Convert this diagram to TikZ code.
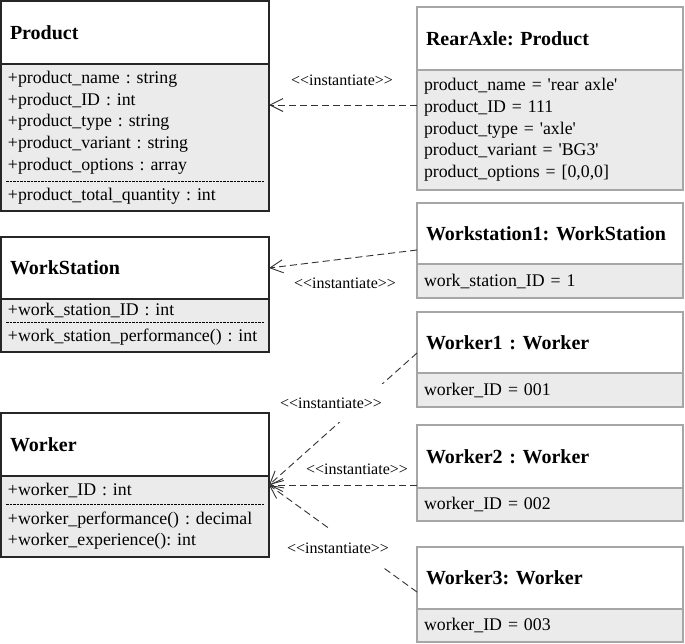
\documentclass[tikz,border=0pt]{standalone}
\usepackage{fontspec}
\setmainfont{Liberation Serif}
\usetikzlibrary{positioning,arrows.meta}
\frenchspacing

\newcommand{\instlabel}{\textless\kern0pt\textless instantiate\textgreater\kern0pt\textgreater}
\newcommand{\sq}[1]{\textquotesingle#1\textquotesingle}

\begin{document}
\begin{tikzpicture}[
  x=1pt, y=-1pt,
  headfont/.style={font=\bfseries\fontsize{20}{23}\selectfont},
  bodyfont/.style={font=\fontsize{17.8}{21.7}\selectfont},
  classhead/.style={draw=black!85, line width=1.4pt, outer sep=0pt, anchor=north west, align=left,
    minimum width=268pt, text width=250pt, inner xsep=9pt, headfont},
  classbody/.style={fill=black!8, outer sep=0pt, anchor=north, align=left,
    minimum width=268pt, text width=254pt, inner xsep=7pt, inner ysep=2pt, bodyfont},
  classbox/.style={draw=black!85, line width=1.4pt},
  sep/.style={dash pattern=on 2.5pt off 1pt, line width=1pt},
  objhead/.style={draw=black!35, line width=1.2pt, outer sep=0pt, anchor=north west, align=left,
    minimum width=266pt, text width=248pt, inner xsep=9pt, headfont},
  objbody/.style={draw=black!35, line width=1.2pt, fill=black!8, outer sep=0pt, anchor=north, align=left,
    minimum width=266pt, text width=252pt, inner xsep=7pt, inner ysep=2pt, bodyfont},
  instof/.style={-{Straight Barb[length=13pt,width=13pt]}, draw=black!80, line width=0.9pt,
    dash pattern=on 7pt off 4pt},
  stereo/.style={font=\fontsize{16}{18}\selectfont, inner sep=1pt},
  cutstereo/.style={stereo, fill=white, inner xsep=4pt, inner ysep=14pt}
]
\useasboundingbox (0,0) rectangle (685,643);

% classes on the left
\node[classhead, minimum height=63pt] (product) at (1,1) {Product};
\node[classbody, minimum height=117pt, below=0pt of product] (productattr)
  {+product\_name : string\\+product\_ID : int\\+product\_type : string\\+product\_variant : string\\+product\_options : array};
\node[classbody, minimum height=30pt, below=0pt of productattr] (productops) {+product\_total\_quantity : int};
\draw[classbox] (productattr.north west) rectangle (productops.south east);
\draw[sep] ([xshift=5pt]productattr.south west) -- ([xshift=-5pt]productattr.south east);

\node[classhead, minimum height=62pt] (workstation) at (1,237) {WorkStation};
\node[classbody, minimum height=23pt, below=0pt of workstation] (workstationattr) {+work\_station\_ID : int};
\node[classbody, minimum height=30pt, below=0pt of workstationattr] (workstationops) {+work\_station\_performance() : int};
\draw[classbox] (workstationattr.north west) rectangle (workstationops.south east);
\draw[sep] ([xshift=5pt]workstationattr.south west) -- ([xshift=-5pt]workstationattr.south east);

\node[classhead, minimum height=63pt] (worker) at (1,413) {Worker};
\node[classbody, minimum height=28pt, below=0pt of worker] (workerattr) {+worker\_ID : int};
\node[classbody, minimum height=53pt, below=0pt of workerattr] (workerops)
  {+worker\_performance() : decimal\\+worker\_experience(): int};
\draw[classbox] (workerattr.north west) rectangle (workerops.south east);
\draw[sep] ([xshift=5pt]workerattr.south west) -- ([xshift=-5pt]workerattr.south east);

% objects on the right
\node[objhead, minimum height=63pt] (rearaxle) at (417,7) {RearAxle: Product};
\node[objbody, minimum height=120pt, below=0pt of rearaxle] (rearaxleattr)
  {product\_name = \sq{rear axle}\\product\_ID = 111\\product\_type = \sq{axle}\\product\_variant = \sq{BG3}\\product\_options = [0,0,0]};

\node[objhead, minimum height=61pt] (workstation1) at (417,203) {Workstation1: WorkStation};
\node[objbody, minimum height=34pt, below=0pt of workstation1] (workstation1attr) {work\_station\_ID = 1};

\node[objhead, minimum height=61pt] (worker1) at (417,312) {Worker1 : Worker};
\node[objbody, minimum height=34pt, below=0pt of worker1] (worker1attr) {worker\_ID = 001};

\node[objhead, minimum height=63pt] (worker2) at (417,425) {Worker2 : Worker};
\node[objbody, minimum height=33pt, below=0pt of worker2] (worker2attr) {worker\_ID = 002};

\node[objhead, minimum height=62pt] (worker3) at (417,547) {Worker3: Worker};
\node[objbody, minimum height=33pt, below=0pt of worker3] (worker3attr) {worker\_ID = 003};

% instantiate dependencies
\coordinate (workerport) at ([yshift=5pt]workerattr.east);
\draw[instof] ([yshift=25pt]rearaxleattr.west) -- ([yshift=17.5pt]productattr.east);
\draw[instof] ([yshift=-16.5pt]workstation1.west) -- (workstation.east);
\draw[instof] ([yshift=-10.5pt]worker1.west) -- (workerport);
\draw[instof] ([yshift=3pt]worker2.south west) -- (workerport);
\draw[instof] ([yshift=-14pt]worker3.west) -- (workerport);

\node[stereo] (instproduct) at (342,80) {\instlabel};
\node[stereo] (instworkstation) at (345,283) {\instlabel};
\node[cutstereo] (instworker1) at (331,403) {\instlabel};
\node[stereo] (instworker2) at (357,469) {\instlabel};
\node[cutstereo] (instworker3) at (338,548) {\instlabel};
\end{tikzpicture}
\end{document}
